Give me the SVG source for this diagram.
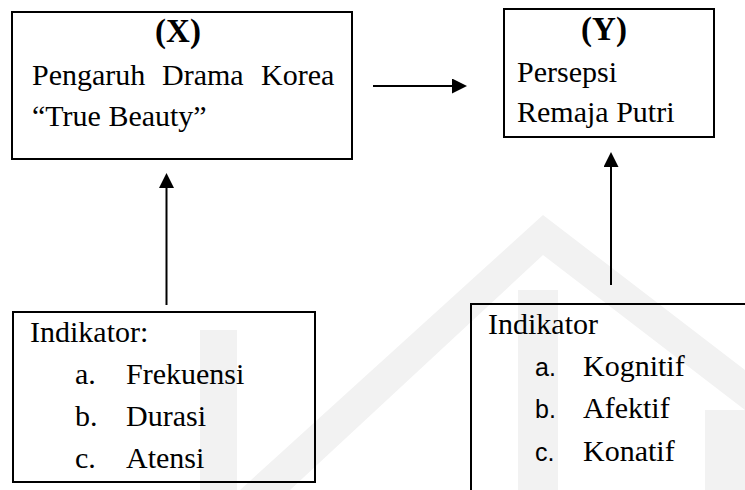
<svg xmlns="http://www.w3.org/2000/svg" width="745" height="490" viewBox="0 0 745 490">
  <defs>
    <marker id="arrow" viewBox="0 0 15 15" refX="0" refY="7.5" markerWidth="15" markerHeight="15" markerUnits="userSpaceOnUse" orient="auto">
      <path d="M0,0 L15,7.5 L0,15 z" fill="#000"/>
    </marker>
  </defs>
  <style>
    .box { fill: none; stroke: #000; stroke-width: 2; }
    .conn { stroke: #000; stroke-width: 2; fill: none; marker-end: url(#arrow); }
    .wm { fill: #f2f2f2; }
  </style>
  <rect x="0" y="0" width="745" height="490" fill="#fff"/>

  <g id="watermark">
    <polygon class="wm" points="240,490 543,215 745,370 745,410 543,255 290,490"/>
    <rect class="wm" x="200" y="330" width="37" height="160"/>
    <rect class="wm" x="518" y="290" width="40" height="200"/>
    <rect class="wm" x="705" y="410" width="40" height="80"/>
  </g>

  <g id="connectors">
    <line class="conn" x1="373" y1="86" x2="452" y2="86"/>
    <line class="conn" x1="166.5" y1="305" x2="166.5" y2="188"/>
    <line class="conn" x1="611" y1="285" x2="611" y2="167"/>
  </g>

  <g font-family="Liberation Serif, Times New Roman, serif" font-size="30" fill="#000">
    <g id="nodeX">
      <rect class="box" x="12" y="12" width="340" height="147"/>
      <text x="178" y="42" text-anchor="middle" font-weight="bold" font-size="33">(X)</text>
      <text y="85"><tspan x="32">Pengaruh</tspan><tspan x="162">Drama</tspan><tspan x="261">Korea</tspan></text>
      <text x="32" y="126">“True Beauty”</text>
    </g>

    <g id="nodeY">
      <rect class="box" x="504" y="9" width="210" height="128"/>
      <text x="604" y="40" text-anchor="middle" font-weight="bold" font-size="33">(Y)</text>
      <text x="517" y="82">Persepsi</text>
      <text x="517" y="122">Remaja Putri</text>
    </g>

    <g id="indikatorX">
      <rect class="box" x="13" y="312" width="302" height="170"/>
      <text x="30" y="342">Indikator:</text>
      <text x="75" y="384">a.</text>
      <text x="126" y="384">Frekuensi</text>
      <text x="75" y="426">b.</text>
      <text x="126" y="426">Durasi</text>
      <text x="75" y="468">c.</text>
      <text x="126" y="468">Atensi</text>
    </g>

    <g id="indikatorY">
      <rect class="box" x="471" y="304" width="300" height="250"/>
      <text x="488" y="334">Indikator</text>
      <text x="535" y="376" font-family="Liberation Sans, Arial, sans-serif" font-size="25">a.</text>
      <text x="583" y="376">Kognitif</text>
      <text x="535" y="418" font-family="Liberation Sans, Arial, sans-serif" font-size="25">b.</text>
      <text x="583" y="418">Afektif</text>
      <text x="535" y="461" font-family="Liberation Sans, Arial, sans-serif" font-size="25">c.</text>
      <text x="583" y="461">Konatif</text>
    </g>
  </g>
</svg>
